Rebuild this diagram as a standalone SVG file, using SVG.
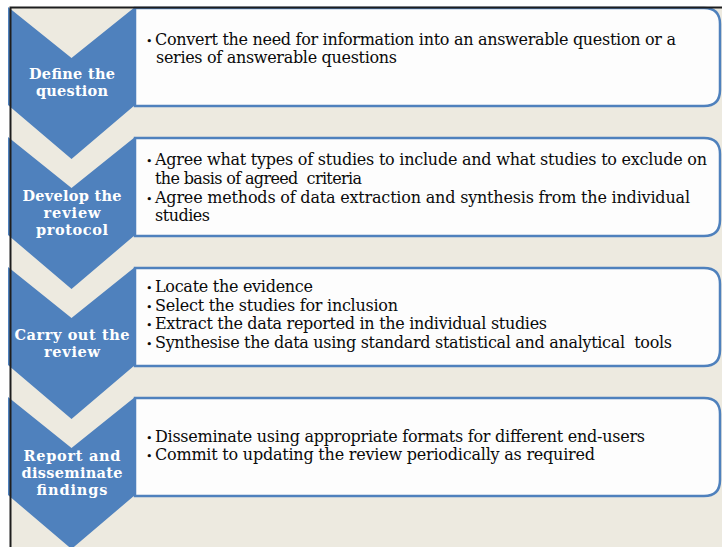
<svg xmlns="http://www.w3.org/2000/svg" width="722" height="547" viewBox="0 0 722 547">
  <style>
    .chev { fill: #4F81BD; }
    .box { fill: #FDFDFD; stroke: #4F81BD; stroke-width: 2.5; }
    .lbl { font-family: "DejaVu Serif", "Liberation Serif", serif; font-weight: bold; font-size: 14.5px; fill: #FFFFFF; text-anchor: middle; }
    .txt { font-family: "DejaVu Serif", "Liberation Serif", serif; font-size: 16px; fill: #0A0A0A; }
    .bul { font-family: "DejaVu Serif", "Liberation Serif", serif; font-size: 11px; fill: #0A0A0A; }
    .frame { stroke: #1E1E1E; stroke-width: 2; fill: none; }
  </style>
  <defs>
    <!-- chevron pointing down, top at y=0 -->
    <path id="chevron" d="M8,0 L71.5,51 L135,0 L135,98 L71.5,152 L8,98 Z"/>
    <!-- content panel, rounded on the right side only -->
    <path id="panel" d="M135,1 L704,1 Q720,1 720,17 L720,83 Q720,99 704,99 L135,99 Z"/>
  </defs>

  <!-- page background -->
  <rect x="0" y="0" width="722" height="547" fill="#FFFFFF"/>
  <rect x="10" y="7" width="712" height="540" fill="#EDEAE0"/>

  <!-- step 1 -->
  <g id="step1" transform="translate(0,7)">
    <use href="#chevron" class="chev"/>
    <use href="#panel" class="box"/>
  </g>
  <g id="step1-text">
    <text class="lbl" x="72" y="79" textLength="86">Define the</text>
    <text class="lbl" x="72" y="96" textLength="72">question</text>
    <text class="bul" x="146" y="45">•</text>
    <text class="txt" x="155" y="45" textLength="521">Convert the need for information into an answerable question or a</text>
    <text class="txt" x="156" y="63" textLength="241">series of answerable questions</text>
  </g>

  <!-- step 2 -->
  <g id="step2" transform="translate(0,137)">
    <use href="#chevron" class="chev"/>
    <use href="#panel" class="box"/>
  </g>
  <g id="step2-text">
    <text class="lbl" x="72" y="201" textLength="99">Develop the</text>
    <text class="lbl" x="72" y="218" textLength="57">review</text>
    <text class="lbl" x="72" y="235" textLength="72">protocol</text>
    <text class="bul" x="146" y="165">•</text>
    <text class="txt" x="155" y="165" textLength="552">Agree what types of studies to include and what studies to exclude on</text>
    <text class="txt" x="155" y="184" textLength="207" xml:space="preserve">the basis of agreed  criteria</text>
    <text class="bul" x="146" y="203">•</text>
    <text class="txt" x="155" y="203" textLength="535">Agree methods of data extraction and synthesis from the individual</text>
    <text class="txt" x="155" y="221" textLength="55">studies</text>
  </g>

  <!-- step 3 -->
  <g id="step3" transform="translate(0,267)">
    <use href="#chevron" class="chev"/>
    <use href="#panel" class="box"/>
  </g>
  <g id="step3-text">
    <text class="lbl" x="72" y="340" textLength="115">Carry out the</text>
    <text class="lbl" x="72" y="357" textLength="56">review</text>
    <text class="bul" x="146" y="292">•</text>
    <text class="txt" x="155" y="292" textLength="158">Locate the evidence</text>
    <text class="bul" x="146" y="311">•</text>
    <text class="txt" x="155" y="311" textLength="243">Select the studies for inclusion</text>
    <text class="bul" x="146" y="329">•</text>
    <text class="txt" x="155" y="329" textLength="392">Extract the data reported in the individual studies</text>
    <text class="bul" x="146" y="348">•</text>
    <text class="txt" x="155" y="348" textLength="517" xml:space="preserve">Synthesise the data using standard statistical and analytical  tools</text>
  </g>

  <!-- step 4 -->
  <g id="step4" transform="translate(0,397)">
    <use href="#chevron" class="chev"/>
    <use href="#panel" class="box"/>
  </g>
  <g id="step4-text">
    <text class="lbl" x="72" y="461" textLength="97">Report and</text>
    <text class="lbl" x="72" y="478" textLength="101">disseminate</text>
    <text class="lbl" x="72" y="495" textLength="71">findings</text>
    <text class="bul" x="146" y="442">•</text>
    <text class="txt" x="155" y="442" textLength="490">Disseminate using appropriate formats for different end-users</text>
    <text class="bul" x="146" y="460">•</text>
    <text class="txt" x="155" y="460" textLength="440">Commit to updating the review periodically as required</text>
  </g>

  <!-- outer frame lines -->
  <g id="connectors">
    <path class="frame" d="M10.5,547 L10.5,7.5 L722,7.5"/>
  </g>
</svg>
